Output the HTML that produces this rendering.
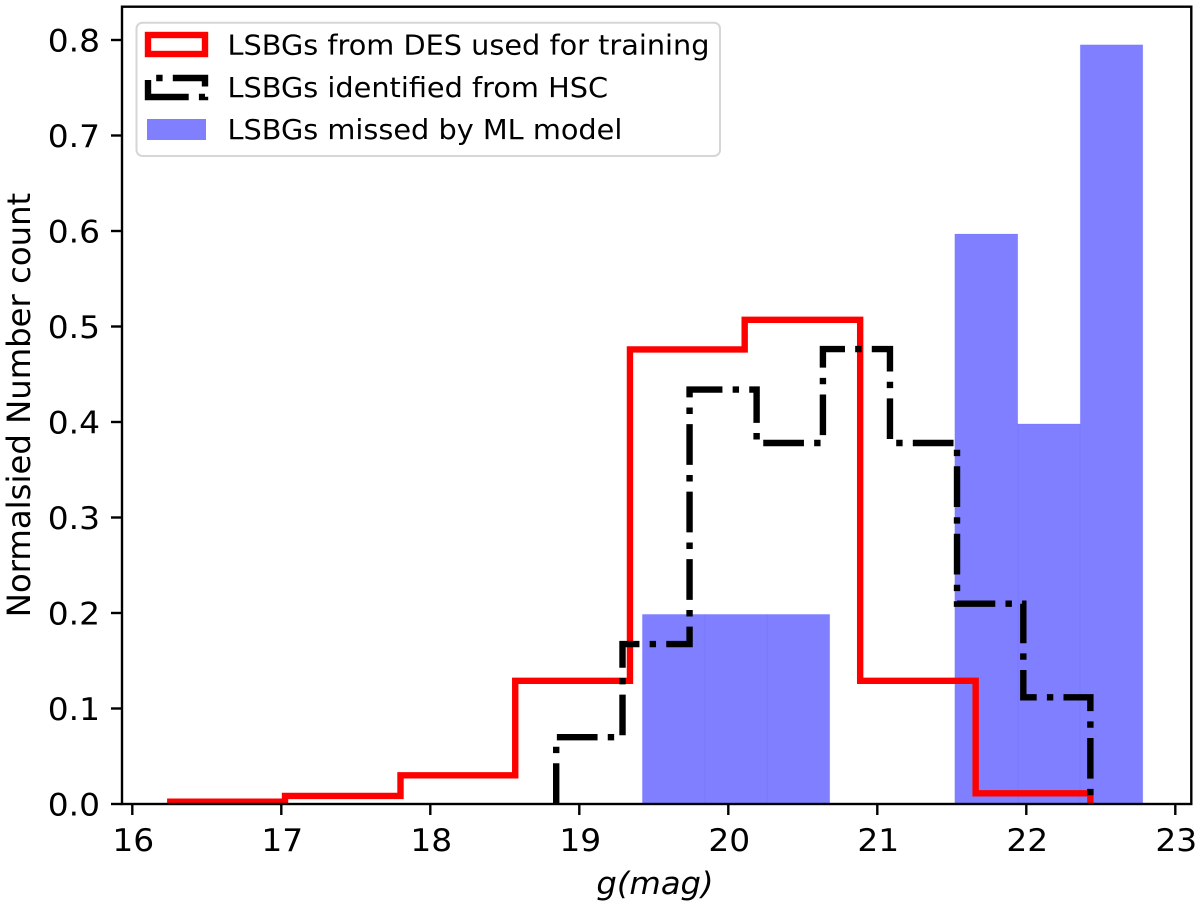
<!DOCTYPE html>
<html>
<head>
<meta charset="utf-8">
<style>
html,body{margin:0;padding:0;background:#fff;}
svg{display:block;}
text{font-family:"DejaVu Sans","Liberation Sans",sans-serif;fill:#000;}
</style>
</head>
<body>
<svg id="chart" xmlns="http://www.w3.org/2000/svg" width="1200" height="907" viewBox="0 0 1200 907">
  <defs>
    <clipPath id="plot-clip"><rect x="122" y="6.7" width="1069.3" height="797.3"/></clipPath>
  </defs>
  <rect x="0" y="0" width="1200" height="907" fill="#ffffff"/>
  <g id="marks" clip-path="url(#plot-clip)"></g>
  <g id="ticks"></g>
  <rect x="122" y="6.7" width="1069.3" height="797.3" fill="none" stroke="#000" stroke-width="2.4"/>
  <text transform="translate(655,894) scale(1.04,1)" font-size="31" font-style="italic" text-anchor="middle">g(mag)</text>
  <text transform="translate(30,405) rotate(-90)" font-size="32.3" text-anchor="middle">Normalsied Number count</text>
  <g>
    <rect x="136.5" y="22.7" width="583.5" height="133.3" rx="6" ry="6" fill="#ffffff" fill-opacity="0.8" stroke="#d6d6d6" stroke-width="2"/>
    <rect x="148" y="35" width="57" height="19" fill="none" stroke="#ff0000" stroke-width="6.4"/>
    <text transform="translate(227.5,54.5) scale(1.05,1)" font-size="27.4">LSBGs from DES used for training</text>
    <path d="M148,97 H205 V78 H148 Z" fill="none" stroke="#000" stroke-width="6.4" stroke-dasharray="40.7 10.2 6.4 10.2"/>
    <text transform="translate(227.5,96.8) scale(1.05,1)" font-size="27.4">LSBGs identified from HSC</text>
    <rect x="147" y="119" width="59" height="21" fill="#8080ff"/>
    <text transform="translate(227.5,139) scale(1.05,1)" font-size="27.4">LSBGs missed by ML model</text>
  </g>
</svg>
<script>
const xTicks = [16, 17, 18, 19, 20, 21, 22, 23];
const yTicks = [0.0, 0.1, 0.2, 0.3, 0.4, 0.5, 0.6, 0.7, 0.8];

const redEdges = [16.255, 17.025, 17.8, 18.57, 19.34, 20.11, 20.885, 21.66, 22.43];
const redValues = [0.0024, 0.0084, 0.03, 0.129, 0.476, 0.507, 0.129, 0.0112];

const blackEdges = [18.845, 19.29, 19.74, 20.19, 20.635, 21.085, 21.535, 21.98, 22.43];
const blackValues = [0.07, 0.1675, 0.434, 0.378, 0.4764, 0.378, 0.2097, 0.1117];

const blueEdges = [19.423, 19.842, 20.262, 20.681, 21.10, 21.52, 21.943, 22.362, 22.782];
const blueValues = [0.1986, 0.1986, 0.1986, 0, 0, 0.5969, 0.398, 0.795];

function xScale(g) { return 132.3 + 149 * (g - 16); }
function yScale(v) { return 804 - 955 * v; }

const SVGNS = 'http://www.w3.org/2000/svg';
const marks = document.getElementById('marks');
const ticks = document.getElementById('ticks');

function stepPath(edges, values) {
  let d = 'M' + xScale(edges[0]) + ',' + yScale(0);
  values.forEach(function (v, i) {
    d += ' L' + xScale(edges[i]) + ',' + yScale(v);
    d += ' L' + xScale(edges[i + 1]) + ',' + yScale(v);
  });
  d += ' L' + xScale(edges[edges.length - 1]) + ',' + yScale(0);
  return d;
}

blueValues.forEach(function (v, i) {
  if (v <= 0) return;
  const bar = document.createElementNS(SVGNS, 'rect');
  
  
  bar.setAttribute('x', xScale(blueEdges[i]));
  bar.setAttribute('y', yScale(v));
  bar.setAttribute('width', xScale(blueEdges[i + 1]) - xScale(blueEdges[i]));
  bar.setAttribute('height', yScale(0) - yScale(v));
  bar.setAttribute('fill', 'rgba(0,0,255,0.5)');
  bar.setAttribute('stroke', 'rgba(0,0,255,0.05)');
  bar.setAttribute('stroke-width', '1');
  marks.appendChild(bar);
});

const redLine = document.createElementNS(SVGNS, 'path');


redLine.setAttribute('d', stepPath(redEdges, redValues));
redLine.setAttribute('fill', 'none');
redLine.setAttribute('stroke', '#ff0000');
redLine.setAttribute('stroke-width', '6.4');
redLine.setAttribute('stroke-linejoin', 'miter');
marks.appendChild(redLine);

const blackLine = document.createElementNS(SVGNS, 'path');


blackLine.setAttribute('d', stepPath(blackEdges, blackValues));
blackLine.setAttribute('fill', 'none');
blackLine.setAttribute('stroke', '#000000');
blackLine.setAttribute('stroke-width', '6.4');
blackLine.setAttribute('stroke-dasharray', '40.7 10.2 6.4 10.2');
marks.appendChild(blackLine);

xTicks.forEach(function (t) {
  const mark = document.createElementNS(SVGNS, 'line');
  
  
  mark.setAttribute('x1', xScale(t));
  mark.setAttribute('x2', xScale(t));
  mark.setAttribute('y1', 804);
  mark.setAttribute('y2', 815);
  mark.setAttribute('stroke', '#000');
  mark.setAttribute('stroke-width', '2.4');
  ticks.appendChild(mark);
  const label = document.createElementNS(SVGNS, 'text');
  
  
  label.setAttribute('transform', 'translate(' + (xScale(t) + 1) + ',851) scale(1.06,1)');
  label.setAttribute('font-size', '31');
  label.setAttribute('text-anchor', 'middle');
  label.textContent = String(t);
  ticks.appendChild(label);
});

yTicks.forEach(function (t) {
  const mark = document.createElementNS(SVGNS, 'line');
  
  
  mark.setAttribute('x1', 111);
  mark.setAttribute('x2', 122);
  mark.setAttribute('y1', yScale(t));
  mark.setAttribute('y2', yScale(t));
  mark.setAttribute('stroke', '#000');
  mark.setAttribute('stroke-width', '2.4');
  ticks.appendChild(mark);
  const label = document.createElementNS(SVGNS, 'text');
  
  
  label.setAttribute('transform', 'translate(100,' + (yScale(t) + 11.5) + ') scale(1.06,1)');
  label.setAttribute('font-size', '31');
  label.setAttribute('text-anchor', 'end');
  label.textContent = t.toFixed(1);
  ticks.appendChild(label);
});
</script>
</body>
</html>
